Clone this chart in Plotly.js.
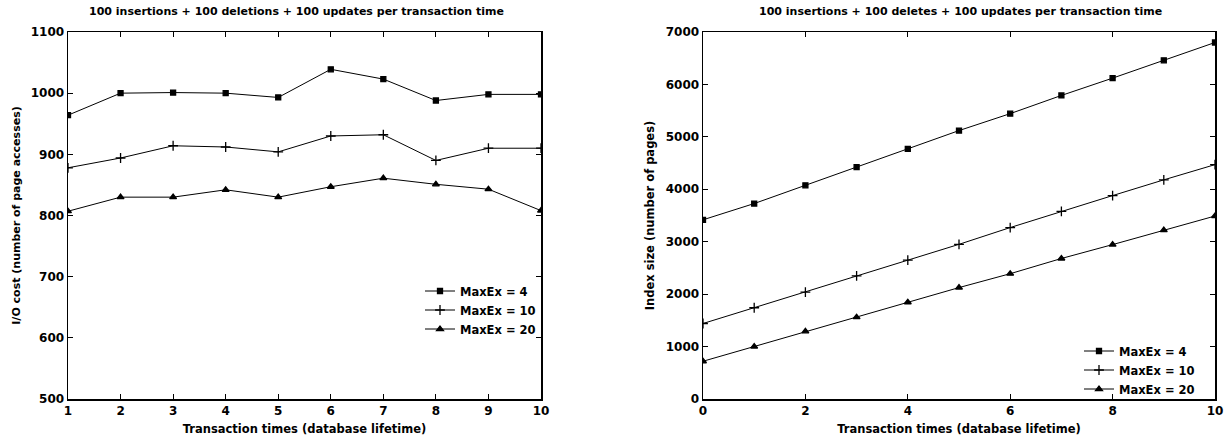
<!DOCTYPE html>
<html><head><meta charset="utf-8">
<script src="https://cdn.plot.ly/plotly-3.0.1.min.js"></script>
<style>html,body{margin:0;padding:0;background:#fff}#chart{width:1230px;height:442px}</style>
</head><body><div id="chart"></div>
<script>
const seriesNames = ["MaxEx = 4", "MaxEx = 10", "MaxEx = 20"];
const leftX = [1,2,3,4,5,6,7,8,9,10];
const leftMaxEx4  = [964,1000,1001,1000,993,1039,1023,988,998,998];
const leftMaxEx10 = [878,894,914,912,904,930,932,890,910,910];
const leftMaxEx20 = [807,830,830,842,830,847,861,851,843,808];
const rightX = [0,1,2,3,4,5,6,7,8,9,10];
const rightMaxEx4  = [3418,3728,4076,4424,4772,5120,5443,5790,6120,6460,6800];
const rightMaxEx10 = [1440,1740,2040,2350,2650,2950,3270,3580,3880,4180,4470];
const rightMaxEx20 = [720,1000,1290,1560,1845,2125,2390,2680,2945,3220,3490];
const leftTitle = "100 insertions + 100 deletions + 100 updates per transaction time";
const rightTitle = "100 insertions + 100 deletes + 100 updates per transaction time";
const xTitle = "Transaction times (database lifetime)";
const leftYTitle = "I/O cost (number of page accesses)";
const rightYTitle = "Index size (number of pages)";

const symbols = ["square", "cross-thin-open", "triangle-up"];
const sizes = [5, 7, 6];
const font = {family: "DejaVu Sans, Arial, sans-serif", color: "#000"};
function f(size) { return Object.assign({size: size, weight: "bold"}, font); }

function mk(x, y, i, xa, ya, leg) {
  return {x, y, name: seriesNames[i], type: "scatter", mode: "lines+markers",
    xaxis: xa, yaxis: ya, legend: leg,
    line: {color: "#000", width: 1},
    marker: {symbol: symbols[i], size: sizes[i], color: "#000", line: {color: "#000", width: 1.3}}};
}
const data = [
  mk(leftX, leftMaxEx4, 0, "x", "y", "legend"),
  mk(leftX, leftMaxEx10, 1, "x", "y", "legend"),
  mk(leftX, leftMaxEx20, 2, "x", "y", "legend"),
  mk(rightX, rightMaxEx4, 0, "x2", "y2", "legend2"),
  mk(rightX, rightMaxEx10, 1, "x2", "y2", "legend2"),
  mk(rightX, rightMaxEx20, 2, "x2", "y2", "legend2")
];
const axBase = {showgrid: false, zeroline: false, showline: true, linecolor: "#000", linewidth: 1.5,
  mirror: "ticks", ticks: "inside", ticklen: 5, tickwidth: 1, tickcolor: "#000",
  tickfont: f(12)};
const ydom = [1 - 399/442, 1 - 32/442];
const layout = {
  width: 1230, height: 442, margin: {l: 0, r: 0, t: 0, b: 0},
  paper_bgcolor: "#fff", plot_bgcolor: "#fff", font: font,
  xaxis: Object.assign({}, axBase, {domain: [68/1230, 541/1230], range: [1, 10], dtick: 1, anchor: "y",
    title: {text: xTitle, font: f(11.5), standoff: 8}}),
  yaxis: Object.assign({}, axBase, {domain: ydom, range: [500, 1100], dtick: 100, anchor: "x",
    title: {text: leftYTitle, font: f(11), standoff: 8}}),
  xaxis2: Object.assign({}, axBase, {domain: [703/1230, 1215/1230], range: [0, 10], dtick: 2, anchor: "y2",
    title: {text: xTitle, font: f(11.5), standoff: 8}}),
  yaxis2: Object.assign({}, axBase, {domain: ydom, range: [0, 7000], dtick: 1000, anchor: "x2",
    title: {text: rightYTitle, font: f(11.5), standoff: 8}}),
  legend: {x: 541/1230, y: 1 - 310/442, xanchor: "right", yanchor: "middle", bgcolor: "rgba(0,0,0,0)",
    font: f(11.5), tracegroupgap: 0, itemwidth: 30},
  legend2: {x: 1200/1230, y: 1 - 370/442, xanchor: "right", yanchor: "middle", bgcolor: "rgba(0,0,0,0)",
    font: f(11.5), tracegroupgap: 0, itemwidth: 30},
  showlegend: true,
  annotations: [
    {text: leftTitle, xref: "paper", yref: "paper", x: 296/1230, y: 1 - 11/442, xanchor: "center", yanchor: "middle",
      showarrow: false, font: f(11)},
    {text: rightTitle, xref: "paper", yref: "paper", x: 960/1230, y: 1 - 11/442, xanchor: "center", yanchor: "middle",
      showarrow: false, font: f(11)}
  ]
};
Plotly.newPlot("chart", data, layout, {staticPlot: true});
</script></body></html>
